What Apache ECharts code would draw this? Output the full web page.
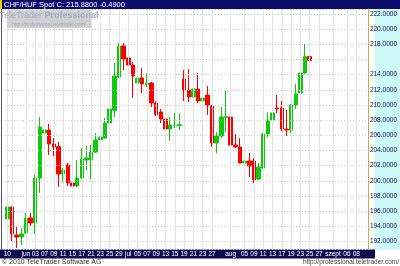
<!DOCTYPE html>
<html>
<head>
<meta charset="utf-8">
<script src="https://cdn.jsdelivr.net/npm/echarts@6/dist/echarts.min.js"></script>
<style>
html,body{margin:0;padding:0;background:#fff;}
#chart{width:400px;height:266px;}
</style>
</head>
<body>
<div id="chart"></div>
<script>
const titleText = 'CHF/HUF Spot C: 215.8800 -0.4900';

const categories = [
'2010-05-26','2010-05-27','2010-05-28','2010-05-31','2010-06-01','2010-06-02','2010-06-03','2010-06-04',
'2010-06-07','2010-06-08','2010-06-09','2010-06-10','2010-06-11','2010-06-14','2010-06-15','2010-06-16',
'2010-06-17','2010-06-18','2010-06-21','2010-06-22','2010-06-23','2010-06-24','2010-06-25','2010-06-28',
'2010-06-29','2010-06-30','2010-07-01','2010-07-02','2010-07-05','2010-07-06','2010-07-07','2010-07-08',
'2010-07-09','2010-07-12','2010-07-13','2010-07-14','2010-07-15','2010-07-16','2010-07-19','2010-07-20',
'2010-07-21','2010-07-22','2010-07-23','2010-07-26','2010-07-27','2010-07-28','2010-07-29','2010-07-30',
'2010-08-02','2010-08-03','2010-08-04','2010-08-05','2010-08-06','2010-08-09','2010-08-10','2010-08-11',
'2010-08-12','2010-08-13','2010-08-16','2010-08-17','2010-08-18','2010-08-19','2010-08-20','2010-08-23',
'2010-08-24','2010-08-25','2010-08-26','2010-08-27','2010-08-30','2010-08-31','2010-09-01','2010-09-02',
'2010-09-03','2010-09-06','2010-09-07','2010-09-08','2010-09-09','2010-09-10'
];

const tickLabels = [
'10','27','','','jun','','03','',
'07','','09','','11','','15','',
'17','','21','','23','','25','',
'29','','jul','','05','','07','',
'09','','13','','15','','19','',
'21','','23','','27','','','',
'aug','','','05','','09','','11',
'','13','','17','','19','','23',
'','25','','27','','','szept','',
'','06','','08','',''
];

const opens = [
194.96,196.54,192.84,192.58,193.11,195.09,194.43,200.36,206.30,206.70,204.85,204.50,200.89,202.08,199.70,199.31,
200.36,202.74,202.74,203.79,205.38,205.64,207.62,209.30,213.69,217.78,216.20,215.27,212.90,213.56,212.63,212.90,
210.26,209.07,208.15,206.83,207.25,207.30,213.42,211.97,211.05,212.11,210.52,211.31,209.86,204.98,205.91,208.35,
208.41,204.72,204.45,202.34,202.61,202.61,200.23,201.68,206.17,208.02,209.60,209.60,206.83,206.70,209.99,211.58,
214.22,216.40
];
const closes = [
196.54,192.98,192.58,192.98,195.09,194.43,200.36,207.09,206.70,204.85,204.45,200.89,201.42,199.70,199.31,200.36,
202.87,203.00,203.79,205.38,205.77,207.62,209.47,213.82,217.78,216.06,215.27,213.82,213.56,212.77,212.90,210.26,
208.68,208.15,206.83,207.36,207.32,207.40,211.84,211.05,212.11,210.52,210.92,209.99,204.98,205.91,208.41,208.45,
204.72,204.45,202.34,202.61,201.95,200.10,201.82,206.17,207.88,208.94,209.47,206.83,206.70,209.99,211.45,214.22,
216.37,215.88
];
const lows = [
194.43,192.05,191.13,191.53,192.95,194.03,192.98,198.39,204.98,203.40,203.27,199.18,199.70,199.31,199.04,199.18,
200.23,201.42,200.23,203.66,205.11,205.51,207.36,208.41,213.56,214.61,212.37,210.92,212.85,211.58,212.37,209.73,
208.54,207.62,206.70,205.25,206.96,206.70,210.52,210.39,210.39,210.26,208.94,208.68,204.45,203.66,205.64,206.43,
204.45,204.32,202.30,201.82,200.50,199.70,200.10,201.60,205.77,205.64,208.94,206.56,205.91,206.30,209.47,210.79,
214.08,215.01
];
const highs = [
197.20,196.60,193.90,193.77,195.75,195.75,200.76,208.41,208.15,207.49,205.64,205.11,201.68,202.34,199.97,202.74,
204.32,204.59,204.72,206.30,207.09,208.28,210.39,215.54,218.17,218.17,219.10,215.67,215.14,214.88,214.22,213.03,
210.52,209.47,208.28,208.41,208.94,208.90,214.61,214.74,213.42,214.22,213.42,212.50,209.99,206.43,209.73,211.84,
208.50,206.17,205.64,203.66,203.66,203.00,202.34,206.30,209.07,209.34,211.31,210.52,209.34,210.13,212.77,214.74,
218.04,218.31
];

const lastClose = closes[closes.length - 1];
const candleData = opens.map((o, i) => [o, closes[i], lows[i], highs[i]]);

const chart = echarts.init(document.getElementById('chart'), null, {renderer: 'canvas'});
const labelFont = "'Liberation Sans Narrow','Liberation Sans',Arial,sans-serif";
const showIdx = (i) => tickLabels[i] !== '';

chart.setOption({
  animation: false,
  backgroundColor: '#ffffff',
  grid: {left: 5, right: 27, top: 9, bottom: 17, show: false},
  xAxis: {
    type: 'category',
    data: categories,
    boundaryGap: true,
    z: 60,
    axisLine: {show: false},
    axisTick: {show: false},
    axisLabel: {
      interval: (i) => showIdx(i),
      showMinLabel: true,
      formatter: (v, i) => tickLabels[i],
      color: '#ffffff',
      fontSize: 6.5,
      fontFamily: labelFont,
      margin: 2
    },
    splitLine: {
      show: true,
      interval: (i) => showIdx(i),
      alignWithLabel: true,
      lineStyle: {color: '#e2e2e2', width: 1, type: 'solid'}
    }
  },
  yAxis: {
    type: 'value',
    position: 'right',
    min: 191,
    max: 222.66,
    minInterval: 2,
    maxInterval: 2,
    splitNumber: 16,
    scale: true,
    z: 60,
    axisLine: {show: true, lineStyle: {color: '#c8b040', width: 1}},
    axisTick: {show: false},
    axisLabel: {
      showMinLabel: false,
      showMaxLabel: false,
      formatter: (v) => (Math.abs(v - lastClose) < 1 ? '' : v.toFixed(4)),
      color: '#101050',
      fontSize: 6.5,
      fontFamily: labelFont,
      margin: 2
    },
    splitLine: {show: true, lineStyle: {color: '#c8c8c8', type: [1, 2], width: 1}}
  },
  series: [{
    type: 'candlestick',
    data: candleData,
    barWidth: 4,
    itemStyle: {
      color: '#10c810',
      color0: '#ff0000',
      borderColor: '#10c810',
      borderColor0: '#ff0000',
      borderWidth: 1
    },
    markLine: {
      silent: true,
      symbol: 'none',
      z: 70,
      lineStyle: {opacity: 0},
      label: {
        position: 'end',
        distance: 1,
        formatter: () => lastClose.toFixed(4),
        backgroundColor: '#ffff00',
        color: '#000000',
        fontSize: 6.5,
        fontFamily: labelFont,
        padding: [1, 1, 0, 1]
      },
      data: [{yAxis: lastClose}]
    }
  }],
  graphic: {elements: [
    {type: 'rect', z: 59, shape: {x: 375, y: 9, width: 25, height: 241}, style: {fill: '#cef9f9'}},
    {type: 'rect', z: 51, shape: {x: 0, y: 249.5, width: 375, height: 9}, style: {fill: '#0c0c50'}},
    {type: 'rect', z: 51, shape: {x: 0, y: 0, width: 400, height: 9}, style: {fill: '#0c0c6a'}},
    {type: 'rect', z: 52, shape: {x: 0, y: 0, width: 2, height: 9}, style: {fill: '#e8d800'}},
    {type: 'text', z: 53, x: 4, y: 4.8, style: {text: titleText, fill: '#ffffff', fontSize: 7.5, fontFamily: labelFont, verticalAlign: 'middle'}},
    {type: 'line', z: 52, shape: {x1: 1.5, y1: 9, x2: 1.5, y2: 249.5}, style: {stroke: '#555555', lineWidth: 1}},
    {type: 'rect', z: 61, shape: {x: 7, y: 10, width: 84, height: 18}, style: {fill: '#d0d0d0'}},
    {type: 'text', z: 62, x: 49, y: 16, style: {
      text: '{a|TeleTrader }{b|Professional}',
      align: 'center', verticalAlign: 'middle',
      rich: {
        a: {fontSize: 9, fill: '#9eacc2', fontFamily: 'Liberation Sans, Arial, sans-serif'},
        b: {fontSize: 9, fill: '#9eacc2', fontWeight: 'bold', fontFamily: 'Liberation Sans, Arial, sans-serif'}
      }
    }},
    {type: 'text', z: 62, x: 49, y: 24.5, style: {text: 'http://professional.teletrader.com/', align: 'center', verticalAlign: 'middle', fontSize: 5, fill: '#9eacc2', fontFamily: 'Liberation Sans, Arial, sans-serif'}},
    {type: 'text', z: 52, x: 2, y: 262.5, style: {text: '\u00a9 2010 TeleTrader Software AG', fill: '#333333', fontSize: 7, fontFamily: labelFont, verticalAlign: 'middle'}},
    {type: 'text', z: 52, x: 399, y: 262.5, style: {text: 'http://professional.teletrader.com/', fill: '#444444', fontSize: 6.5, fontFamily: labelFont, align: 'right', verticalAlign: 'middle'}}
  ]}
});
</script>
</body>
</html>
